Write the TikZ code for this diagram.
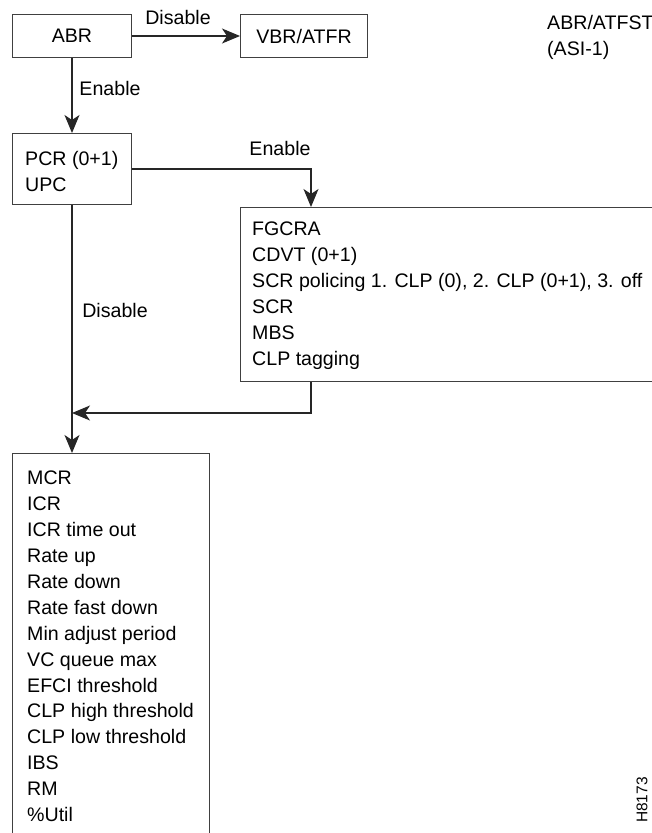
\documentclass[tikz,border=0pt]{standalone}
\usepackage{fontspec}
\setmainfont{Liberation Sans}
\usetikzlibrary{arrows.meta,calc}
\begin{document}
\begin{tikzpicture}[x=1pt,y=-1pt,
  every node/.style={font=\fontsize{19.6}{25.9}\selectfont},
  box/.style={draw=black!75, line width=1pt, rectangle, inner sep=0pt, anchor=north west},
  txt/.style={inner sep=0pt, anchor=north west, align=left},
  lbl/.style={inner sep=0pt},
  flow/.style={draw=black!85, line width=1.2pt},
  tip/.style={-{Stealth[length=18pt,width=15pt,inset=5pt]}}]
\useasboundingbox (0,0) rectangle (652,833);
\clip (0,0) rectangle (652,833);

% boxes
\node[box, minimum width=119pt, minimum height=43pt] (abr) at (12,14) {ABR};
\node[box, minimum width=127pt, minimum height=43pt] (vbr) at (240,14) {VBR/ATFR};
\node[box, minimum width=119pt, minimum height=71pt] (pcr) at (12,133) {};
\node[box, minimum width=460pt, minimum height=174pt] (fg) at (240,207) {};
\node[box, minimum width=197pt, minimum height=420pt] (mcr) at (12,453) {};

% box contents
\node[txt] (pcrtxt) at (25,151.5) {PCR (0+1)\\UPC};
\node[txt] (fgtxt) at (252,222) {FGCRA\\CDVT (0+1)\\SCR policing 1. CLP (0), 2. CLP (0+1), 3. off\\SCR\\MBS\\CLP tagging};
\node[txt] (mcrtxt) at (27,471) {MCR\\ICR\\ICR time out\\Rate up\\Rate down\\Rate fast down\\Min adjust period\\VC queue max\\EFCI threshold\\CLP high threshold\\CLP low threshold\\IBS\\RM\\\%Util};

% title and figure number
\node[txt] (title) at (547,15) {ABR/ATFST\\(ASI-1)};
\node[lbl, rotate=90, font=\fontsize{15.5}{18}\selectfont] (fig) at (642,800) {H8173};

% connector labels
\node[lbl] (l1) at (178,17) {Disable};
\node[lbl] (l2) at (110,88) {Enable};
\node[lbl] (l3) at (280,148) {Enable};
\node[lbl] (l4) at (115,310) {Disable};

% connectors
\coordinate (fgin) at ($(fg.north west)+(71,0)$);
\coordinate (fgout) at ($(fg.south west)+(71,0)$);
\coordinate (merge) at ($(pcr.south)+(0,208)$);
\draw[flow,tip] (abr) -- (vbr);
\draw[flow,tip] (abr) -- (pcr);
\draw[flow,tip] (pcr.east) -| (fgin);
\draw[flow,tip] (fgout) |- (merge);
\draw[flow,tip] (pcr.south) -- (pcr.south |- mcr.north);
\end{tikzpicture}
\end{document}
